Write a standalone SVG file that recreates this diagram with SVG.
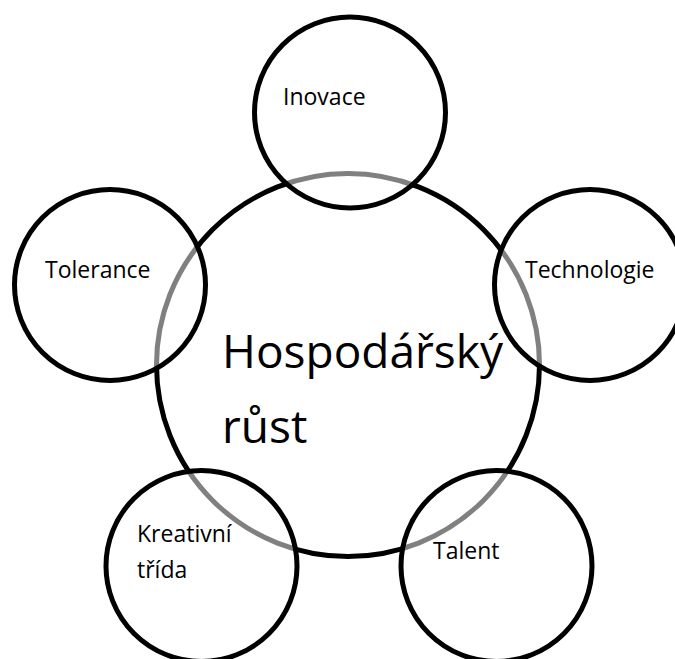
<svg xmlns="http://www.w3.org/2000/svg" width="675" height="659" viewBox="0 0 675 659">
<style>
.big{fill:#fff;stroke:#000;stroke-width:5}
.small{fill:#fff;fill-opacity:0.5;stroke:#000;stroke-width:5}
.lbl{font-family:"Open Sans","Noto Sans",sans-serif;font-size:23px;fill:#000}
.main{font-family:"Open Sans","Noto Sans",sans-serif;font-size:46px;fill:#000}
</style>
<rect width="675" height="659" fill="#fff"/>
<g id="hospodarsky-rust">
<circle class="big" cx="348" cy="365" r="191.5"/>
<text class="main" x="222" y="368">Hospodářský</text>
<text class="main" x="222" y="443">růst</text>
</g>
<g id="inovace">
<circle class="small" cx="350" cy="112.5" r="95.5"/>
<text class="lbl" x="283" y="105">Inovace</text>
</g>
<g id="tolerance">
<circle class="small" cx="110" cy="285" r="95.5"/>
<text class="lbl" x="45" y="278">Tolerance</text>
</g>
<g id="technologie">
<circle class="small" cx="590" cy="285" r="95.5"/>
<text class="lbl" x="525" y="278">Technologie</text>
</g>
<g id="kreativni-trida">
<circle class="small" cx="201.5" cy="566" r="95.5"/>
<text class="lbl" x="137" y="542">Kreativní</text>
<text class="lbl" x="137" y="578">třída</text>
</g>
<g id="talent">
<circle class="small" cx="496.5" cy="566" r="95.5"/>
<text class="lbl" x="433" y="559">Talent</text>
</g>
</svg>
